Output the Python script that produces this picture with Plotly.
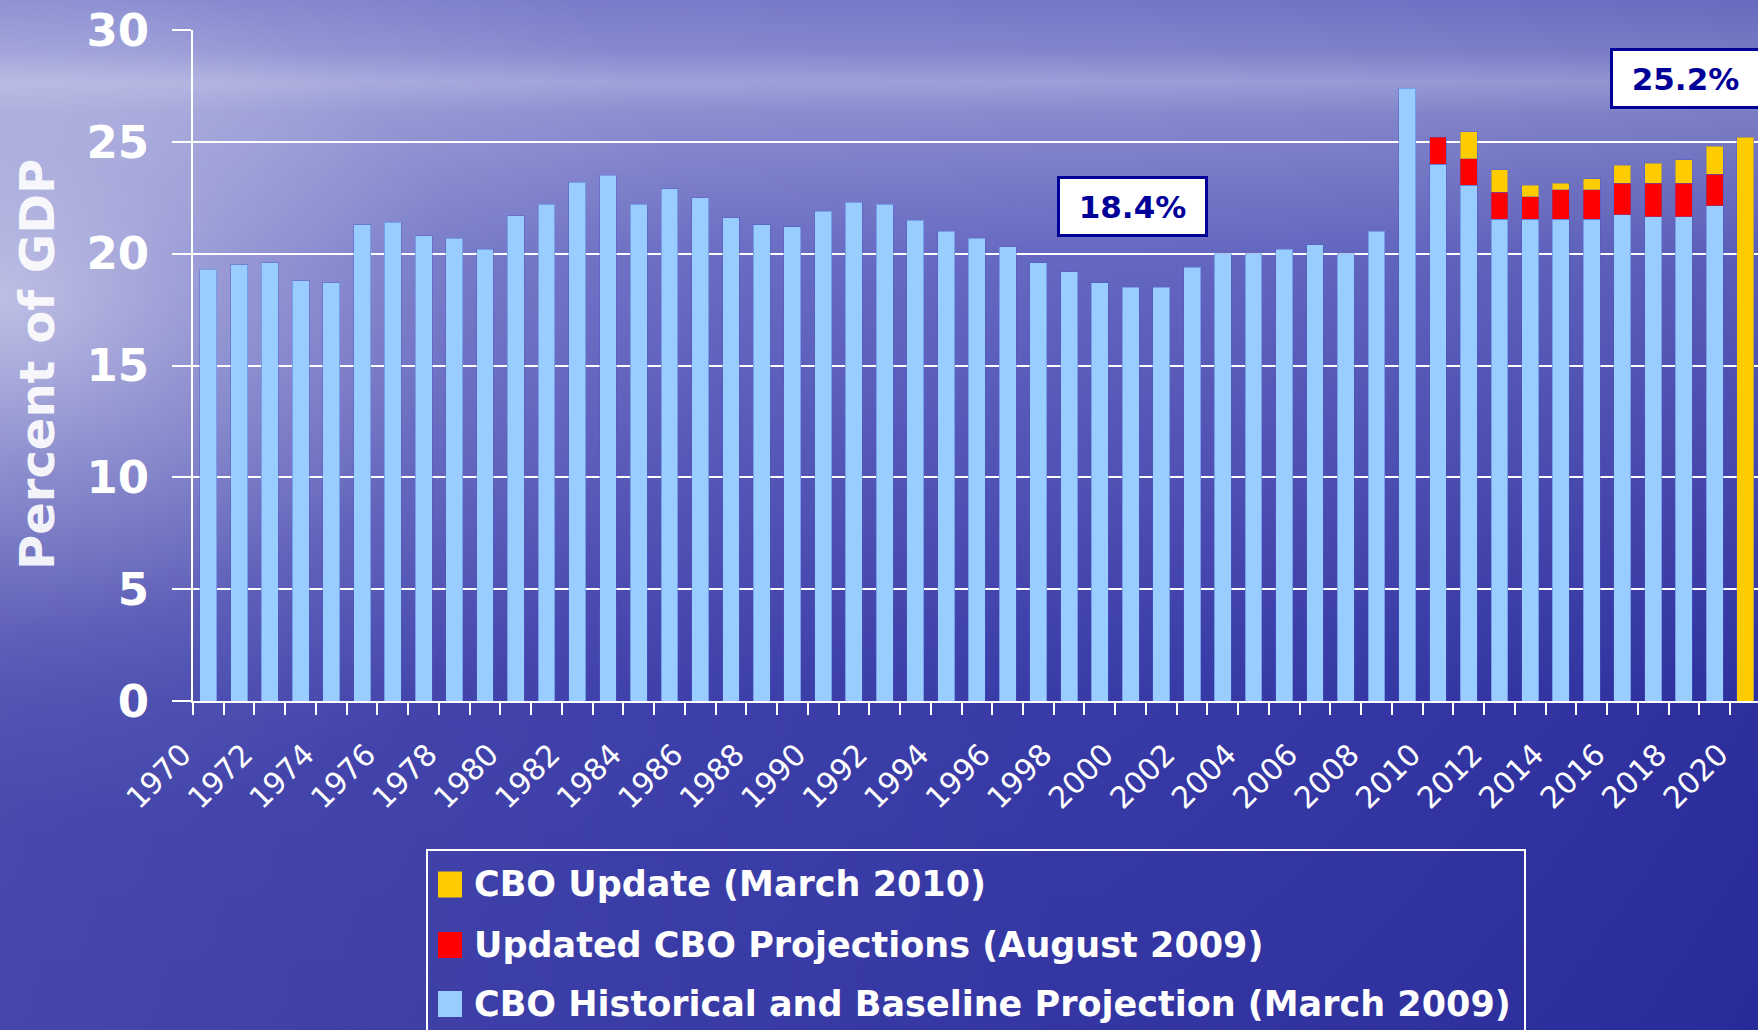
import base64
import plotly.graph_objects as go

# categories
years = list(range(1970, 2021))
tick_years = years[::2]

# CBO historical and baseline projection (March 2009), percent of GDP
baseline = [19.3, 19.5, 19.6, 18.8, 18.7, 21.3, 21.4, 20.8, 20.7, 20.2,
            21.7, 22.2, 23.2, 23.5, 22.2, 22.9, 22.5, 21.6, 21.3, 21.2,
            21.9, 22.3, 22.2, 21.5, 21.0, 20.7, 20.3, 19.6, 19.2, 18.7,
            18.5, 18.5, 19.4, 20.0, 20.0, 20.2, 20.4, 20.0, 21.0, 27.4,
            24.0, 23.05, 21.55, 21.55, 21.55, 21.55, 21.75, 21.65, 21.65, 22.15]
baseline_years = years[:50]

# Updated CBO projections (August 2009), increment over baseline
aug_years = [2010, 2011, 2012, 2013, 2014, 2015, 2016, 2017, 2018, 2019]
aug_vals = [1.2, 1.2, 1.2, 1.0, 1.3, 1.3, 1.4, 1.5, 1.5, 1.4]

# CBO update (March 2010), increment over August 2009
mar_years = [2011, 2012, 2013, 2014, 2015, 2016, 2017, 2018, 2019, 2020]
mar_vals = [1.2, 1.0, 0.5, 0.3, 0.5, 0.8, 0.9, 1.05, 1.25, 25.2]

names = ["CBO Historical and Baseline Projection (March 2009)",
         "Updated CBO Projections (August 2009)",
         "CBO Update (March 2010)"]
colors = ["#99CCFF", "#FF0000", "#FFCC00"]

y_title = "Percent of GDP"
callouts = ["18.4%", "25.2%"]
callout_x = [2000.06, 2018.05]
callout_y = [22.13, 27.85]

W, H = 1758, 1030
L, R, T, B = 193, 0, 30, 329
PW, PH = W - L - R, H - T - B


def px(p):
    return (p - L) / PW


def py(p):
    return (H - B - p) / PH


bg_svg = f"""<svg xmlns='http://www.w3.org/2000/svg' width='{W}' height='{H}' viewBox='0 0 {W} {H}' preserveAspectRatio='none'>
<defs>
<linearGradient id='g' x1='0' y1='0' x2='0' y2='1'>
<stop offset='0' stop-color='#6E71C6'/>
<stop offset='0.05' stop-color='#7D80CB'/>
<stop offset='0.08' stop-color='#989BD6'/>
<stop offset='0.11' stop-color='#8285CC'/>
<stop offset='0.25' stop-color='#5F62BE'/>
<stop offset='0.45' stop-color='#4A4CB2'/>
<stop offset='0.68' stop-color='#3032A3'/>
<stop offset='1' stop-color='#2B2D9F'/>
</linearGradient>
<linearGradient id='h' x1='0' y1='0' x2='1' y2='0'>
<stop offset='0' stop-color='#FFFFFF' stop-opacity='0.12'/>
<stop offset='0.6' stop-color='#FFFFFF' stop-opacity='0.04'/>
<stop offset='1' stop-color='#000040' stop-opacity='0.06'/>
</linearGradient>
<radialGradient id='r' gradientUnits='userSpaceOnUse' cx='0' cy='300' r='700'
 gradientTransform='translate(0,300) scale(1,0.75) translate(0,-300)'>
<stop offset='0' stop-color='#FFFFFF' stop-opacity='0.55'/>
<stop offset='0.3' stop-color='#FFFFFF' stop-opacity='0.3'/>
<stop offset='0.65' stop-color='#FFFFFF' stop-opacity='0.08'/>
<stop offset='1' stop-color='#FFFFFF' stop-opacity='0'/>
</radialGradient>
</defs>
<rect width='{W}' height='{H}' fill='url(#g)'/>
<rect width='{W}' height='{H}' fill='url(#h)'/>
<rect width='{W}' height='{H}' fill='url(#r)'/>
</svg>"""
bg_uri = "data:image/svg+xml;base64," + base64.b64encode(bg_svg.encode()).decode()

edge = dict(width=1, color="rgba(70,90,200,0.4)")

fig = go.Figure()
fig.add_trace(go.Bar(x=baseline_years, y=baseline, name=names[0],
                     marker=dict(color=colors[0], line=edge), showlegend=False))
fig.add_trace(go.Bar(x=aug_years, y=aug_vals, name=names[1],
                     marker=dict(color=colors[1], line=edge), showlegend=False))
fig.add_trace(go.Bar(x=mar_years, y=mar_vals, name=names[2],
                     marker=dict(color=colors[2], line=edge), showlegend=False))

bold = dict(family="DejaVu Sans", weight="bold", color="white")

fig.update_layout(
    width=W, height=H,
    margin=dict(l=L, r=R, t=T, b=B, pad=0),
    barmode="stack", bargap=0.45,
    paper_bgcolor="#3A3CA8",
    plot_bgcolor="rgba(0,0,0,0)",
    showlegend=False,
    images=[dict(source=bg_uri, xref="paper", yref="paper",
                 x=px(0), y=py(0), sizex=W / PW, sizey=H / PH,
                 xanchor="left", yanchor="top", sizing="stretch", layer="below")],
)

fig.update_xaxes(
    range=[1969.5, 1969.5 + PW / 30.74],
    tickmode="array", tickvals=tick_years, ticktext=[str(y) for y in tick_years],
    tickangle=-45, ticks="",
    tickfont=dict(family="DejaVu Sans", size=30, color="white"),
    ticklabelshift=-26, ticklabelstandoff=22,
    minor=dict(tickmode="array",
               tickvals=[y - 0.5 for y in years] + [years[-1] + 0.5],
               ticks="outside", ticklen=12, tickwidth=2, tickcolor="white",
               showgrid=False),
    showgrid=False, zeroline=False,
    showline=True, linecolor="white", linewidth=2,
)

fig.update_yaxes(
    range=[0, 30], dtick=5, tick0=0,
    showgrid=True, gridcolor="white", gridwidth=2,
    ticks="outside", ticklen=19, tickwidth=2, tickcolor="white",
    showline=True, linecolor="white", linewidth=2,
    zeroline=False,
    tickfont=dict(size=45, **bold),
    ticklabelstandoff=14,
)

# axis title placed as an annotation so it sits where the slide has it
fig.add_annotation(x=px(37), y=py(365), xref="paper", yref="paper",
                   text=y_title, textangle=-90, showarrow=False,
                   xanchor="center", yanchor="middle",
                   font=dict(size=48, family="DejaVu Sans", weight="bold",
                             color="rgba(255,255,255,0.92)"))

for txt, xv, yv in zip(callouts, callout_x, callout_y):
    fig.add_annotation(x=xv, y=yv, xref="x", yref="y", text=txt, showarrow=False,
                       font=dict(family="DejaVu Sans", weight="bold", size=31, color="#000099"),
                       bgcolor="white", bordercolor="#000099", borderwidth=3, borderpad=4,
                       width=137, height=47, align="center", valign="middle")

# legend drawn by hand so the swatches match the slide
fig.add_shape(type="rect", xref="paper", yref="paper",
              x0=px(427), x1=px(1525), y0=py(850), y1=py(1045),
              line=dict(color="white", width=2), fillcolor="rgba(0,0,0,0)", layer="above")
rows = [884.5, 945, 1004]
for row_y, idx in zip(rows, [2, 1, 0]):
    fig.add_shape(type="rect", xref="paper", yref="paper",
                  x0=px(438), x1=px(462), y0=py(row_y - 13), y1=py(row_y + 13),
                  line=dict(color=colors[idx], width=0), fillcolor=colors[idx], layer="above")
    fig.add_annotation(x=px(472), y=py(row_y), xref="paper", yref="paper",
                       xanchor="left", yanchor="middle", text=names[idx], showarrow=False,
                       font=dict(size=35, **bold))

fig.write_html("out.html", config={"displayModeBar": False},
               post_script="document.body.style.margin='0';")
